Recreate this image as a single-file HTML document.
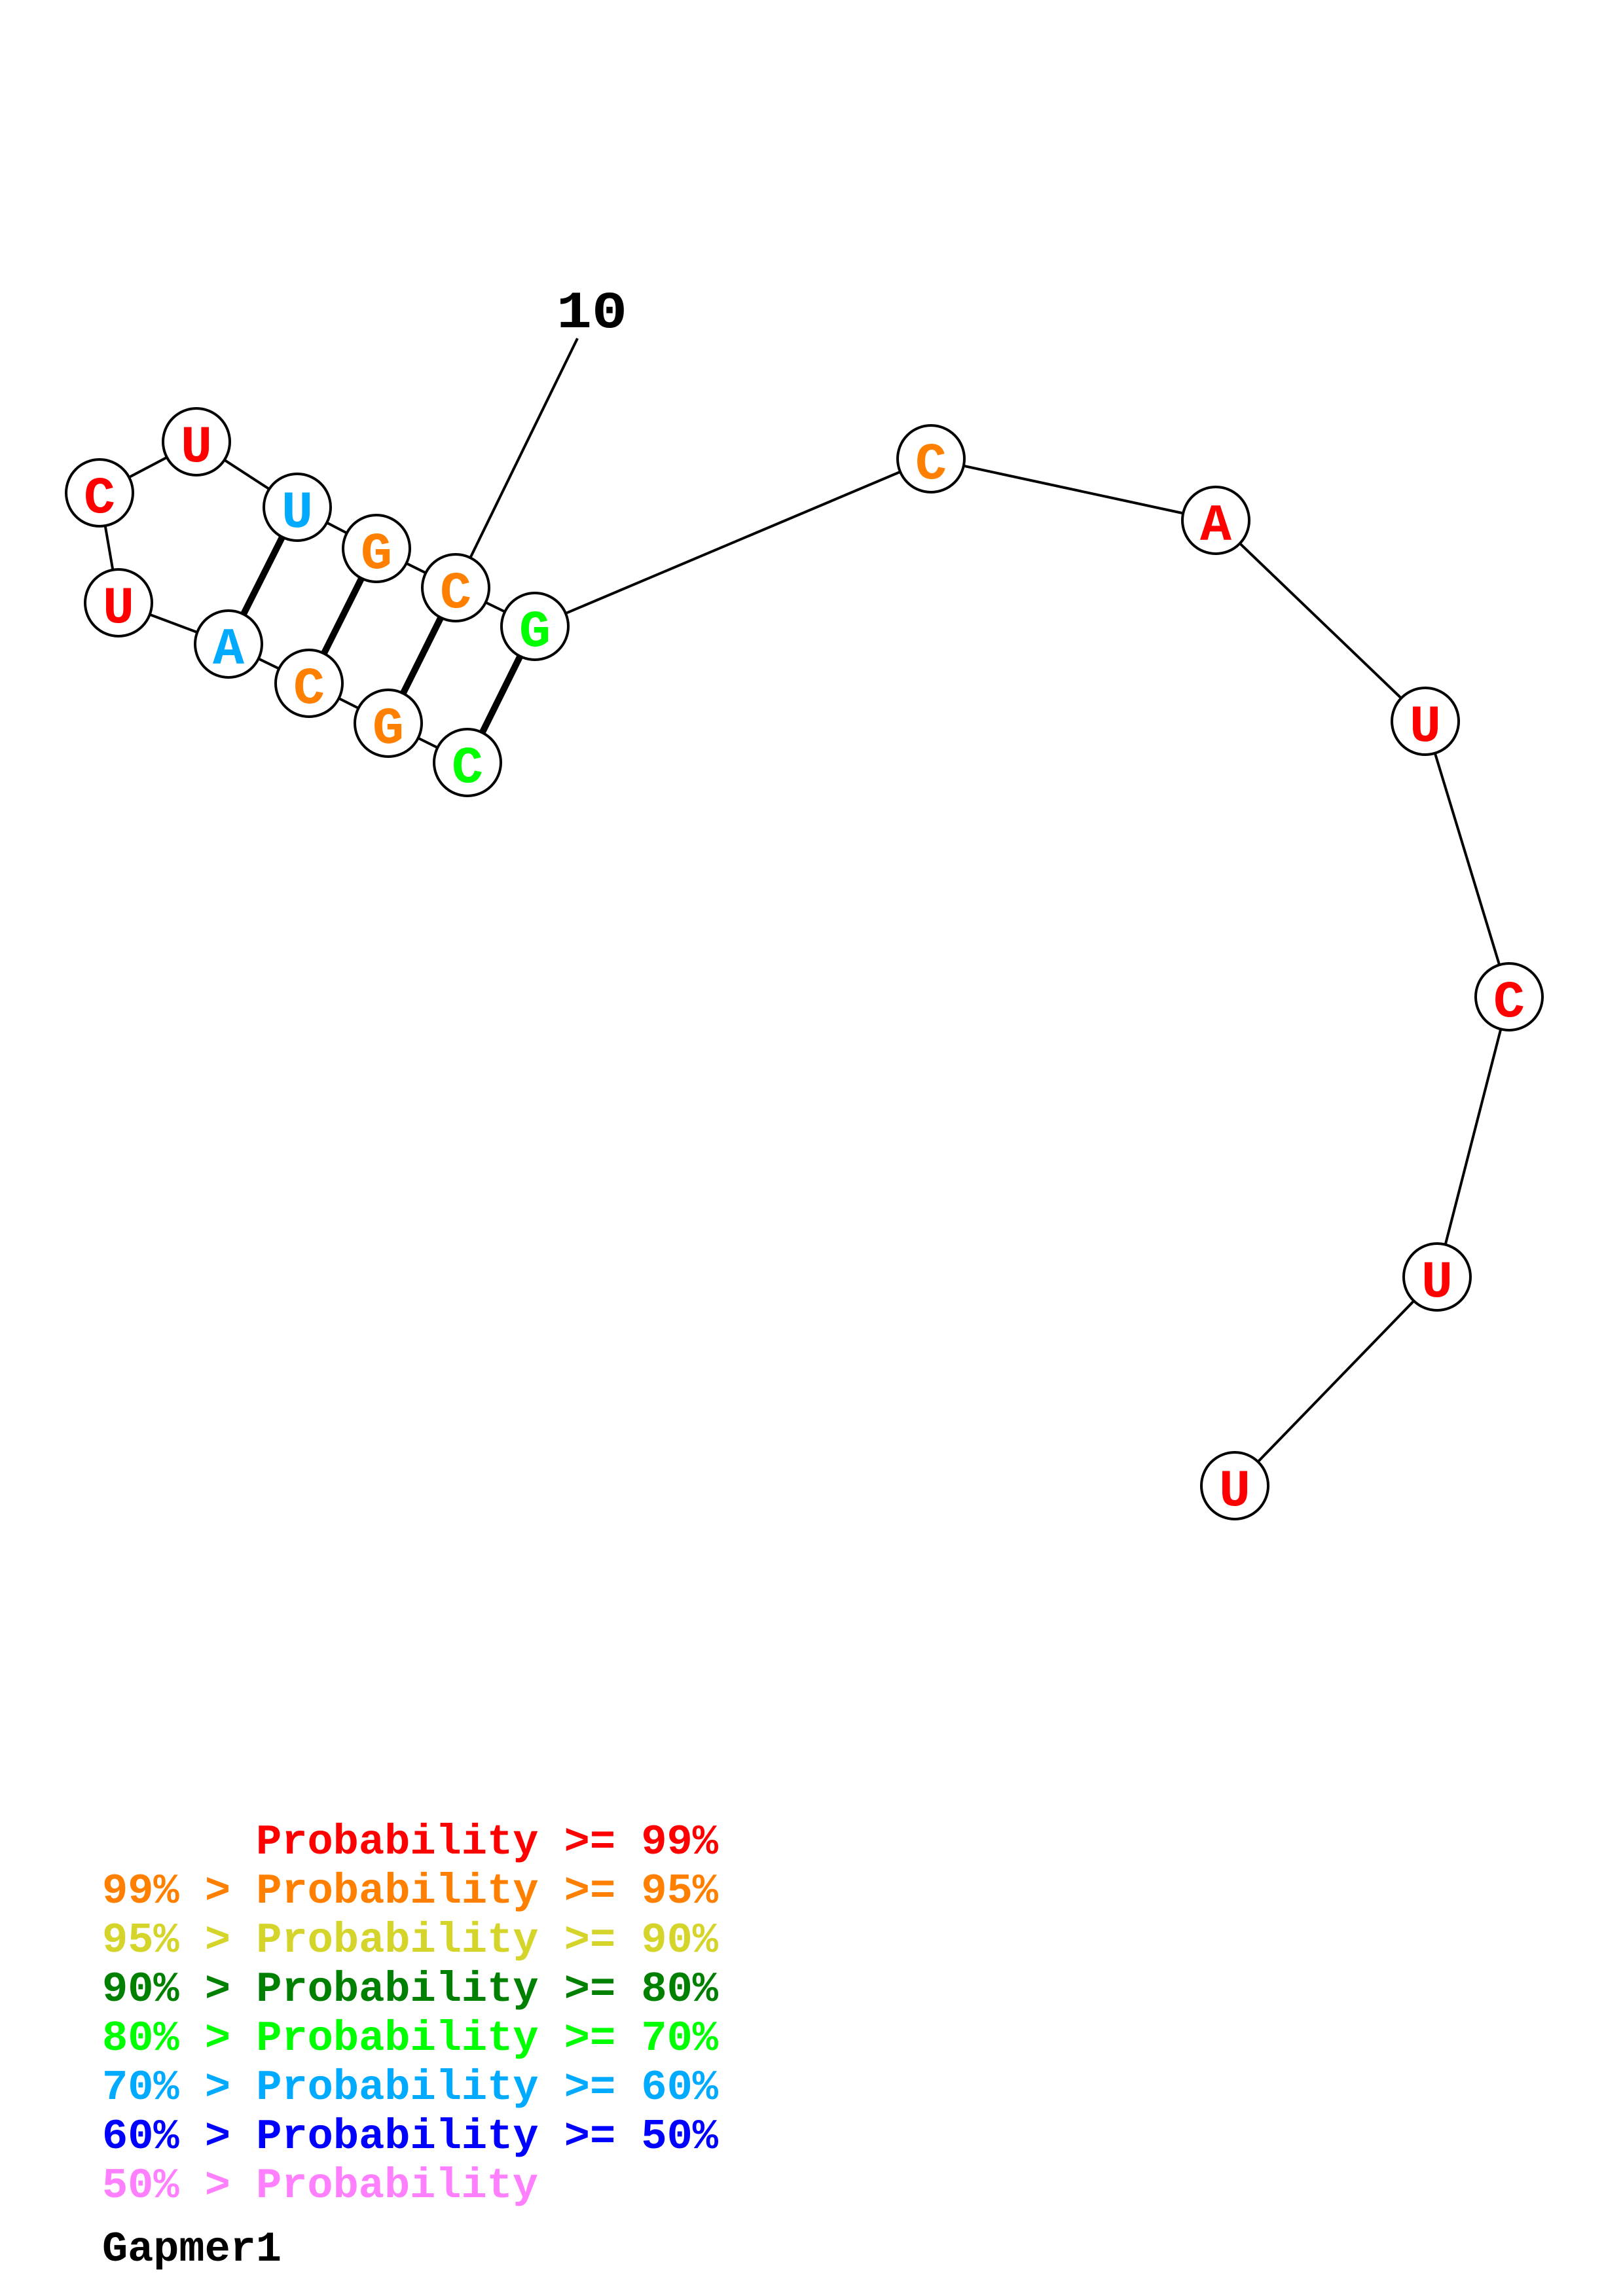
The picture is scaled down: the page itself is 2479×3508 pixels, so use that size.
<!DOCTYPE html>
<html><head><meta charset="utf-8"><style>
html,body{margin:0;padding:0;background:#fff}
svg{display:block}
</style></head><body>
<svg width="2479" height="3508" viewBox="0 0 2479 3508" xmlns="http://www.w3.org/2000/svg">
<rect width="2479" height="3508" fill="#fff"/>
<g stroke="#000" stroke-width="4" fill="none">
<line x1="882" y1="517" x2="696" y2="898"/>
<polyline points="714,1165 593,1105 472,1044 349,984 181,921 152,753 300,675 454,775 575,838 696,898 817,957 1422,701 1857,795 2177,1102 2305,1523 2195,1951 1886,2270"/>
</g>
<g stroke="#000" stroke-width="10">
<line x1="454" y1="775" x2="349" y2="984"/>
<line x1="575" y1="838" x2="472" y2="1044"/>
<line x1="696" y1="898" x2="593" y2="1105"/>
<line x1="817" y1="957" x2="714" y2="1165"/>
</g>
<g stroke="#000" stroke-width="4" fill="#fff">
<circle cx="152" cy="753" r="51"/><circle cx="300" cy="675" r="51"/><circle cx="454" cy="775" r="51"/>
<circle cx="575" cy="838" r="51"/><circle cx="696" cy="898" r="51"/><circle cx="817" cy="957" r="51"/>
<circle cx="1422" cy="701" r="51"/><circle cx="1857" cy="795" r="51"/><circle cx="2177" cy="1102" r="51"/>
<circle cx="2305" cy="1523" r="51"/><circle cx="2195" cy="1951" r="51"/><circle cx="1886" cy="2270" r="51"/>
<circle cx="181" cy="921" r="51"/><circle cx="349" cy="984" r="51"/><circle cx="472" cy="1044" r="51"/>
<circle cx="593" cy="1105" r="51"/><circle cx="714" cy="1165" r="51"/>
</g>
<g font-family="'Liberation Mono', monospace" font-weight="bold" font-size="80" text-anchor="middle">
<text x="152" y="783" fill="#ff0000">C</text>
<text x="300" y="705" fill="#ff0000">U</text>
<text x="454" y="805" fill="#00aaff">U</text>
<text x="575" y="868" fill="#ff8000">G</text>
<text x="696" y="928" fill="#ff8000">C</text>
<text x="817" y="987" fill="#00ff00">G</text>
<text x="1422" y="731" fill="#ff8000">C</text>
<text x="1857" y="825" fill="#ff0000">A</text>
<text x="2177" y="1132" fill="#ff0000">U</text>
<text x="2305" y="1553" fill="#ff0000">C</text>
<text x="2195" y="1981" fill="#ff0000">U</text>
<text x="1886" y="2300" fill="#ff0000">U</text>
<text x="181" y="951" fill="#ff0000">U</text>
<text x="349" y="1014" fill="#00aaff">A</text>
<text x="472" y="1074" fill="#ff8000">C</text>
<text x="593" y="1135" fill="#ff8000">G</text>
<text x="714" y="1195" fill="#00ff00">C</text>
</g>
<text x="850" y="500" font-family="'Liberation Mono', monospace" font-weight="bold" font-size="80" fill="#000" textLength="108" lengthAdjust="spacingAndGlyphs">10</text>
<g font-family="'Liberation Mono', monospace" font-weight="bold" font-size="65">
<text x="391" y="2832" fill="#ff0000" textLength="706" lengthAdjust="spacingAndGlyphs">Probability &gt;= 99%</text>
<text x="156" y="2907" fill="#ff8000" textLength="941" lengthAdjust="spacingAndGlyphs">99% &gt; Probability &gt;= 95%</text>
<text x="156" y="2982" fill="#d4d42a" textLength="941" lengthAdjust="spacingAndGlyphs">95% &gt; Probability &gt;= 90%</text>
<text x="156" y="3057" fill="#008000" textLength="941" lengthAdjust="spacingAndGlyphs">90% &gt; Probability &gt;= 80%</text>
<text x="156" y="3132" fill="#00ff00" textLength="941" lengthAdjust="spacingAndGlyphs">80% &gt; Probability &gt;= 70%</text>
<text x="156" y="3207" fill="#00aaff" textLength="941" lengthAdjust="spacingAndGlyphs">70% &gt; Probability &gt;= 60%</text>
<text x="156" y="3282" fill="#0000ff" textLength="941" lengthAdjust="spacingAndGlyphs">60% &gt; Probability &gt;= 50%</text>
<text x="156" y="3357" fill="#ff80ff" textLength="666" lengthAdjust="spacingAndGlyphs">50% &gt; Probability</text>
<text x="156" y="3454" fill="#000" textLength="274" lengthAdjust="spacingAndGlyphs">Gapmer1</text>
</g>
</svg>
</body></html>
